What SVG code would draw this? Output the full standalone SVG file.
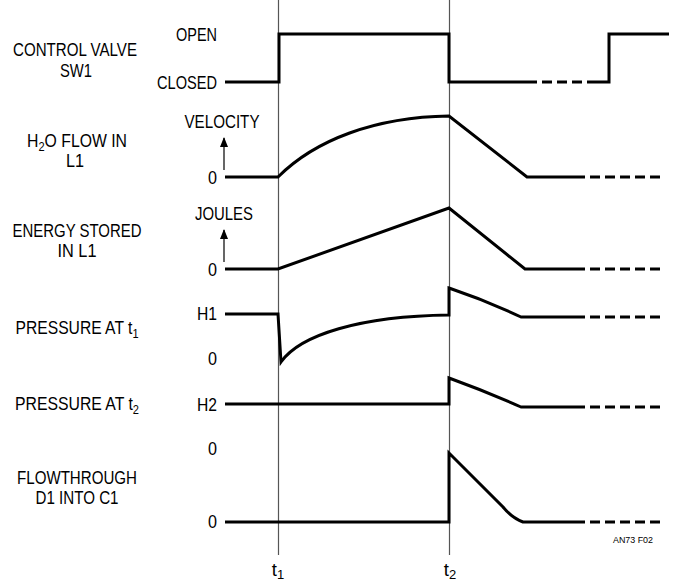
<svg xmlns="http://www.w3.org/2000/svg" width="676" height="583" viewBox="0 0 676 583">
<style>
text{font-family:"Liberation Sans",Arial,sans-serif;font-size:18.5px;fill:#000}
.m{text-anchor:middle}
.e{text-anchor:end}
.w{fill:none;stroke:#000;stroke-width:3;stroke-linejoin:miter}
.d{fill:none;stroke:#000;stroke-width:3;stroke-dasharray:10 5}
.v{stroke:#555;stroke-width:1.2;fill:none}
.a{stroke:#000;stroke-width:1.2;fill:none}
.sub{font-size:13px}
</style>
<defs>
<marker id="ah" viewBox="0 0 10 8" refX="9" refY="4" markerWidth="10" markerHeight="8" markerUnits="userSpaceOnUse" orient="auto">
<path d="M0,0 L10,4 L0,8 Z" fill="#000"/>
</marker>
</defs>
<rect width="676" height="583" fill="#fff"/>
<g id="connectors">
<line class="v" x1="278.5" y1="0" x2="278.5" y2="555"/>
<line class="v" x1="449.5" y1="0" x2="449.5" y2="555"/>
<line class="a" x1="224" y1="170" x2="224" y2="138" marker-end="url(#ah)"/>
<line class="a" x1="224" y1="262" x2="224" y2="230" marker-end="url(#ah)"/>
</g>
<g id="row-valve">
<text class="m" x="75" y="56" textLength="124" lengthAdjust="spacingAndGlyphs">CONTROL VALVE</text>
<text class="m" x="76" y="77" textLength="32" lengthAdjust="spacingAndGlyphs">SW1</text>
<text class="e" x="217" y="41" textLength="41" lengthAdjust="spacingAndGlyphs">OPEN</text>
<text class="e" x="217" y="89" textLength="60" lengthAdjust="spacingAndGlyphs">CLOSED</text>
<path class="w" d="M225,82 H279 V34 H449 V82 H527"/>
<path class="d" d="M527,82 H592"/>
<path class="w" d="M592,82 H609 V34 H669"/>
</g>
<g id="row-flow">
<text class="m" x="77" y="147" textLength="100" lengthAdjust="spacingAndGlyphs">H<tspan class="sub" dy="4">2</tspan><tspan dy="-4">O FLOW IN</tspan></text>
<text class="m" x="75" y="167" textLength="18" lengthAdjust="spacingAndGlyphs">L1</text>
<text class="m" x="222" y="128" textLength="75" lengthAdjust="spacingAndGlyphs">VELOCITY</text>
<text class="e" x="217" y="184" textLength="9" lengthAdjust="spacingAndGlyphs">0</text>
<path class="w" d="M225,177 H278 C315,140 375,117 449,116 L527,177 H575"/>
<path class="d" d="M575,177 H660"/>
</g>
<g id="row-energy">
<text class="m" x="77" y="237" textLength="129" lengthAdjust="spacingAndGlyphs">ENERGY STORED</text>
<text class="m" x="77" y="257" textLength="39" lengthAdjust="spacingAndGlyphs">IN L1</text>
<text class="m" x="224" y="220" textLength="58" lengthAdjust="spacingAndGlyphs">JOULES</text>
<text class="e" x="217" y="276" textLength="9" lengthAdjust="spacingAndGlyphs">0</text>
<path class="w" d="M225,269 H278 L449,208 L525,269 H575"/>
<path class="d" d="M575,269 H660"/>
</g>
<g id="row-pressure-t1">
<text class="m" x="77" y="334" textLength="123" lengthAdjust="spacingAndGlyphs">PRESSURE AT t<tspan class="sub" dy="4">1</tspan></text>
<text class="e" x="217" y="320" textLength="20" lengthAdjust="spacingAndGlyphs">H1</text>
<text class="e" x="217" y="365" textLength="9" lengthAdjust="spacingAndGlyphs">0</text>
<path class="w" d="M225,314 H278 L281,362 C300,335 360,316 449,315 V288 Q485,300 521,317 H575"/>
<path class="d" d="M575,317 H660"/>
</g>
<g id="row-pressure-t2">
<text class="m" x="77" y="410" textLength="124" lengthAdjust="spacingAndGlyphs">PRESSURE AT t<tspan class="sub" dy="4">2</tspan></text>
<text class="e" x="217" y="411" textLength="20" lengthAdjust="spacingAndGlyphs">H2</text>
<path class="w" d="M225,404 H449 V378 Q485,391 521,407 H575"/>
<path class="d" d="M575,407 H660"/>
</g>
<g id="row-flowthrough">
<text class="m" x="77" y="484" textLength="120" lengthAdjust="spacingAndGlyphs">FLOWTHROUGH</text>
<text class="m" x="77" y="504" textLength="83" lengthAdjust="spacingAndGlyphs">D1 INTO C1</text>
<text class="e" x="217" y="455" textLength="9" lengthAdjust="spacingAndGlyphs">0</text>
<text class="e" x="217" y="528" textLength="9" lengthAdjust="spacingAndGlyphs">0</text>
<path class="w" d="M225,522 H449 V453 L503,507 Q512,518 523,522 H575"/>
<path class="d" d="M575,522 H660"/>
</g>
<g id="time-labels">
<text class="m" x="278" y="576">t<tspan class="sub" dy="3">1</tspan></text>
<text class="m" x="450" y="576">t<tspan class="sub" dy="3">2</tspan></text>
<text x="613" y="543" style="font-size:9px" textLength="40" lengthAdjust="spacingAndGlyphs">AN73 F02</text>
</g>
</svg>
